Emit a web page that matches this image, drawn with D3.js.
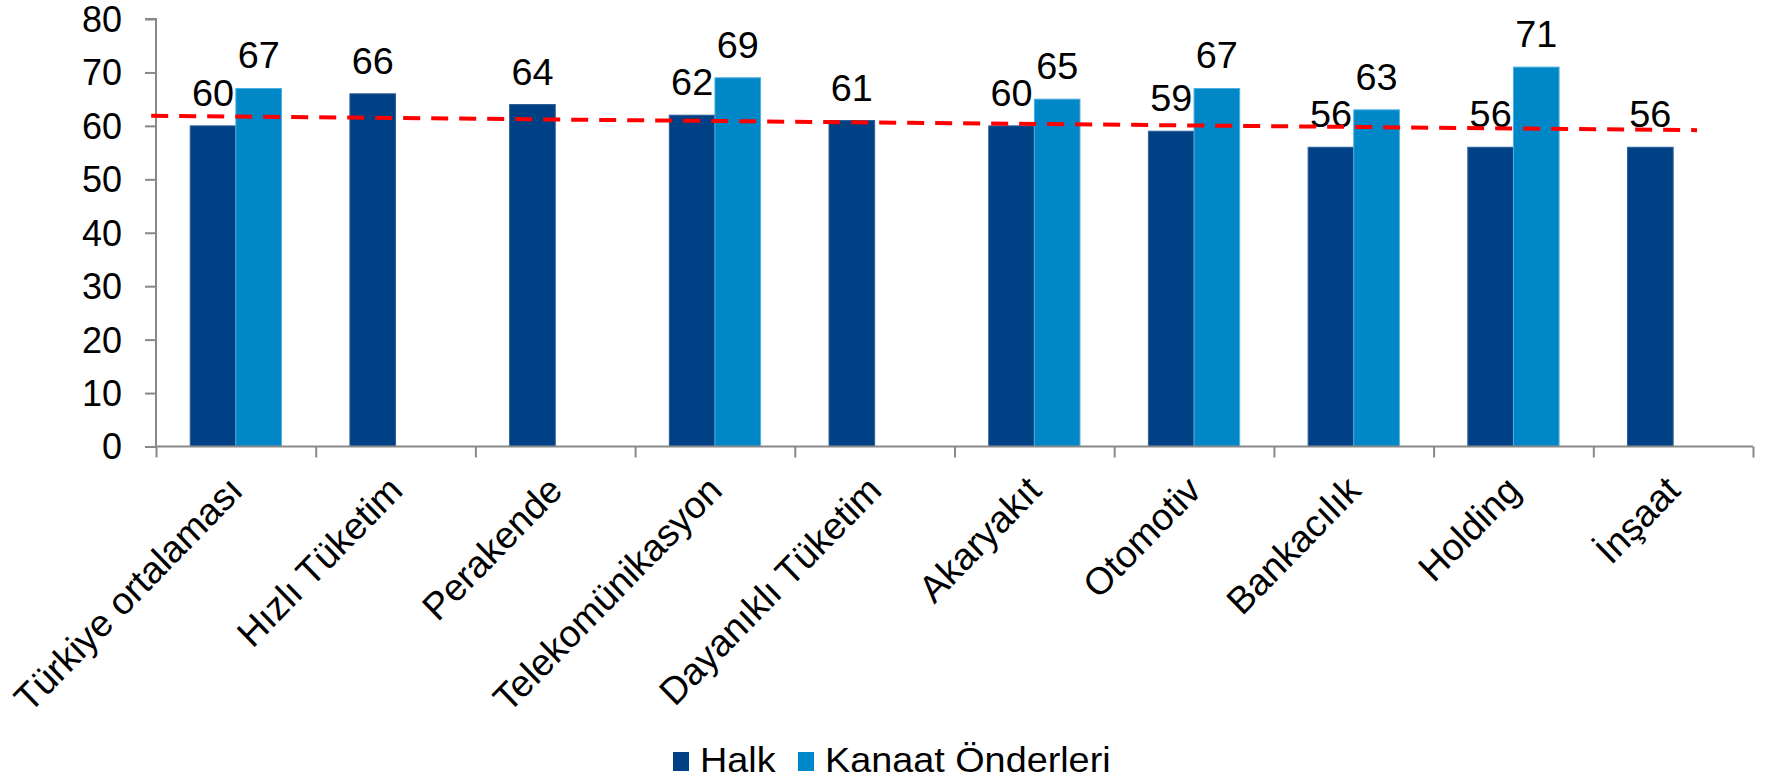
<!DOCTYPE html>
<html>
<head>
<meta charset="utf-8">
<script src="https://cdn.jsdelivr.net/npm/d3@7"></script>
<style>
  html, body { margin: 0; padding: 0; background: #ffffff; }
  svg { display: block; }
  text { font-family: "Liberation Sans", Arial, sans-serif; fill: #000; }
</style>
</head>
<body>
<svg id="chart" width="1766" height="781"></svg>
<script>
// Sector reputation scores: general public vs opinion leaders
const categories = ["Türkiye ortalaması", "Hızlı Tüketim", "Perakende", "Telekomünikasyon",
  "Dayanıklı Tüketim", "Akaryakıt", "Otomotiv", "Bankacılık", "Holding", "İnşaat"];
const seriesNames = ["Halk", "Kanaat Önderleri"];
const halkValues = [60, 66, 64, 62, 61, 60, 59, 56, 56, 56];
const kanaatValues = [67, null, null, 69, null, 65, 67, 63, 71, null];
const yTicks = [0, 10, 20, 30, 40, 50, 60, 70, 80];
// dashed reference line: position along the category axis (in category units) and value
const trendPositions = [-0.03, 9.65];
const trendValues = [61.9, 59.2];

const colors = { "Halk": "#004185", "Kanaat Önderleri": "#0087c7" };
const edgeColors = { "Halk": "#2f5f95", "Kanaat Önderleri": "#4fb0e0" };

const svg = d3.select("#chart");
const plot = { left: 156, right: 1753, top: 19, bottom: 446.5 };

const x = d3.scaleBand().domain(categories).range([plot.left, plot.right]).padding(0);
const xs = d3.scaleBand().domain(seriesNames).range([0, x.bandwidth()])
  .paddingInner(0).paddingOuter(0.75);
const xPos = d3.scaleLinear().domain([0, categories.length]).range([plot.left, plot.right]);
const y = d3.scaleLinear().domain([0, 80]).range([plot.bottom, plot.top]);

const rows = categories.map((c, i) => ({ category: c, values: [
  { series: "Halk", value: halkValues[i] },
  { series: "Kanaat Önderleri", value: kanaatValues[i] }
].filter(d => d.value !== null) }));

// bars
const groups = svg.append("g").selectAll("g").data(rows).join("g")
  .attr("transform", d => `translate(${x(d.category)},0)`);
groups.selectAll("rect").data(d => d.values).join("rect")
  .attr("x", d => xs(d.series))
  .attr("y", d => y(d.value))
  .attr("width", xs.bandwidth())
  .attr("height", d => y(0) - y(d.value))
  .attr("fill", d => colors[d.series])
  .attr("stroke", d => edgeColors[d.series])
  .attr("stroke-width", 1);

// axes
const axisColor = "#898989";
const yAxis = svg.append("g").attr("transform", `translate(${plot.left},0)`)
  .call(d3.axisLeft(y).tickValues(yTicks).tickSize(11).tickPadding(0).tickFormat(""));
const xAxis = svg.append("g").attr("transform", `translate(0,${plot.bottom})`)
  .call(d3.axisBottom(xPos).tickValues(d3.range(0, categories.length + 1)).tickSize(11).tickFormat(""));
[yAxis, xAxis].forEach(a => {
  a.selectAll("path.domain").attr("stroke", axisColor).attr("stroke-width", 2);
  a.selectAll(".tick line").attr("stroke", axisColor).attr("stroke-width", 2);
});
yAxis.select("path.domain").attr("d", `M-11,${y(80)}H0V${plot.bottom}`);
xAxis.select("path.domain").attr("d", `M${plot.left},0H${plot.right}`);

// y tick labels
svg.append("g").selectAll("text").data(yTicks).join("text")
  .attr("transform", d => `translate(122,${y(d)})`)
  .attr("text-anchor", "end")
  .attr("dy", "0.36em")
  .style("font-size", "36px")
  .text(d => d);

// category labels, rotated
svg.append("g").selectAll("text").data(categories).join("text")
  .attr("transform", d => `translate(${x(d) + x.bandwidth() / 2 + 9},${plot.bottom + 46}) scale(1,1.03) rotate(-45)`)
  .attr("text-anchor", "end")
  .style("font-size", "37px")
  .text(d => d);

// dashed reference line
const trend = trendPositions.map((p, i) => [xPos(p), y(trendValues[i])]);
svg.append("path")
  .attr("d", d3.line()(trend))
  .attr("fill", "none")
  .attr("stroke", "#ff0000")
  .attr("stroke-width", 4)
  .attr("stroke-dasharray", "17,11");

// value labels
groups.selectAll("text").data(d => d.values).join("text")
  .attr("transform", d => `translate(${xs(d.series) + xs.bandwidth() / 2},${y(d.value) - 20}) scale(1.05,1)`)
  .attr("text-anchor", "middle")
  .style("font-size", "36px")
  .text(d => d.value);

// legend
const legendX = [673, 798];
const legend = svg.append("g").selectAll("g").data(seriesNames).join("g")
  .attr("transform", (d, i) => `translate(${legendX[i]},752)`);
legend.append("rect").attr("width", 16).attr("height", 19).attr("fill", d => colors[d]);
legend.append("text")
  .attr("transform", `translate(27,20) scale(1.08,1)`)
  .style("font-size", "35px")
  .text(d => d);
</script>
</body>
</html>
